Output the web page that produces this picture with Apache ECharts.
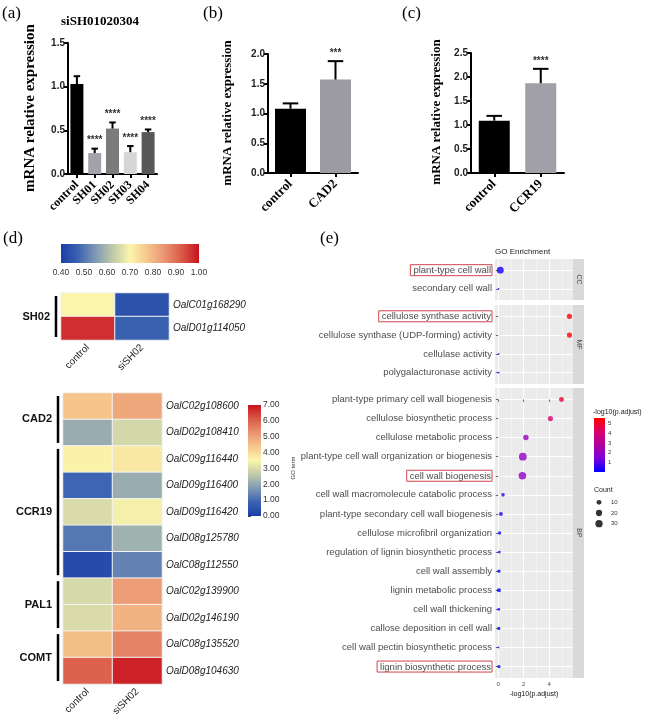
<!DOCTYPE html>
<html><head><meta charset="utf-8">
<script src="https://cdn.jsdelivr.net/npm/echarts@6/dist/echarts.min.js"></script>
<style>html,body{margin:0;padding:0;background:#fff}#c{width:650px;height:720px}</style>
</head><body><div id="c"></div>
<script>
// ---------------- data ----------------
const aCats = ['control', 'SH01', 'SH02', 'SH03', 'SH04'];
const aMean = [1.03, 0.24, 0.52, 0.25, 0.48];
const aErr  = [0.09, 0.05, 0.07, 0.07, 0.03];
const aSig  = ['', '****', '****', '****', '****'];
const aTicks = [0, 0.5, 1.0, 1.5];

const bCats = ['control', 'CAD2'];
const bMean = [1.08, 1.57];
const bErr  = [0.09, 0.31];
const bSig  = ['', '***'];
const bTicks = [0, 0.5, 1.0, 1.5, 2.0];

const cCats = ['control', 'CCR19'];
const cMean = [1.09, 1.87];
const cErr  = [0.10, 0.30];
const cSig  = ['', '****'];
const cTicks = [0, 0.5, 1.0, 1.5, 2.0, 2.5];

const hmConds = ['control', 'siSH02'];
const sh02Genes = ['OalC01g168290', 'OalD01g114050'];
const sh02Control = [0.70, 0.97];
const sh02Si = [0.44, 0.47];
const sh02Groups = [['SH02', 0, 1]];
const sh02Ticks = [0.4, 0.5, 0.6, 0.7, 0.8, 0.9, 1.0];

const ligGenes = ['OalC02g108600', 'OalD02g108410', 'OalC09g116440', 'OalD09g116400', 'OalD09g116420',
  'OalD08g125780', 'OalC08g112550', 'OalC02g139900', 'OalD02g146190', 'OalC08g135520', 'OalD08g104630'];
const ligControl = [4.4, 2.1, 3.55, 0.9, 3.0, 1.2, 0.3, 2.95, 3.0, 4.5, 6.0];
const ligSi      = [4.9, 2.9, 3.75, 2.1, 3.4, 2.2, 1.4, 5.1, 4.7, 5.5, 6.8];
const ligGroups = [['CAD2', 0, 1], ['CCR19', 2, 6], ['PAL1', 7, 8], ['COMT', 9, 10]];
const ligTicks = [0, 1, 2, 3, 4, 5, 6, 7];

const goTerms = ['plant-type cell wall', 'secondary cell wall',
  'cellulose synthase activity', 'cellulose synthase (UDP-forming) activity', 'cellulase activity', 'polygalacturonase activity',
  'plant-type primary cell wall biogenesis', 'cellulose biosynthetic process', 'cellulose metabolic process',
  'plant-type cell wall organization or biogenesis', 'cell wall biogenesis', 'cell wall macromolecule catabolic process',
  'plant-type secondary cell wall biogenesis', 'cellulose microfibril organization', 'regulation of lignin biosynthetic process',
  'cell wall assembly', 'lignin metabolic process', 'cell wall thickening', 'callose deposition in cell wall',
  'cell wall pectin biosynthetic process', 'lignin biosynthetic process'];
const goOntology = ['CC', 'CC', 'MF', 'MF', 'MF', 'MF',
  'BP', 'BP', 'BP', 'BP', 'BP', 'BP', 'BP', 'BP', 'BP', 'BP', 'BP', 'BP', 'BP', 'BP', 'BP'];
const goLogP  = [0.16, 0.02, 5.60, 5.60, 0.03, 0.03, 4.97, 4.10, 2.17, 1.93, 1.90, 0.37, 0.21, 0.10, 0.08,
  0.05, 0.05, 0.04, 0.04, 0.02, 0.05];
const goCount = [25, 1, 12, 12, 1, 1, 10, 12, 14, 35, 32, 4, 5, 3, 2, 3, 6, 2, 3, 1, 3];
const goHighlight = ['plant-type cell wall', 'cellulose synthase activity', 'cell wall biogenesis', 'lignin biosynthetic process'];
const goFacets = ['CC', 'MF', 'BP'];
const goXTicks = [0, 2, 4];
const goXMinor = [1, 3, 5];
const goColorTicks = [1, 2, 3, 4, 5];
const goCountBreaks = [10, 20, 30];

// ---------------- styles / layout ----------------
const SERIF = '"Liberation Serif","Times New Roman",serif';
const SANS = '"Liberation Sans",Arial,sans-serif';
const aColors = ['#000000', '#a3a2aa', '#7b7b7b', '#d6d6d6', '#585858'];
const bColors = ['#000000', '#9c9ba1'];
const cColors = ['#000000', '#a19fa7'];
const HM_COLORS = ['#1a3fa6', '#3c63b1', '#7f99b4', '#bfcaa9', '#fbf5ac', '#f5c68c', '#ea9471', '#da5a47', '#c8121e'];
const GO_COLORS = ['#0000ff', '#7c00dc', '#b0009f', '#d8006a', '#ff0000'];

const grids = [
  {left: 68, top: 43, width: 89, height: 131},     // 0 a
  {left: 268, top: 54, width: 90, height: 119},    // 1 b
  {left: 471, top: 53, width: 93, height: 120},    // 2 c
  {left: 61, top: 293, width: 108, height: 47},    // 3 hm1
  {left: 63, top: 393, width: 99, height: 291},    // 4 hm2
  {left: 61, top: 244, width: 138, height: 19},    // 5 cbar1
  {left: 248, top: 405, width: 13, height: 111},   // 6 cbar2
  {left: 495, top: 259, width: 78, height: 41},    // 7 CC
  {left: 495, top: 305, width: 78, height: 79},    // 8 MF
  {left: 495, top: 388, width: 78, height: 290},   // 9 BP
  {left: 594, top: 418, width: 11, height: 54},    // 10 go color legend
  {left: 593, top: 497, width: 12, height: 32}     // 11 count legend
];
grids.forEach((g, i) => {
  g.outerBoundsMode = 'none';
  g.containLabel = false;
  if (i >= 7 && i <= 9) { g.show = true; g.backgroundColor = '#ebebeb'; g.borderWidth = 0; }
});

const xAxes = [], yAxes = [], series = [], graphics = [];

// ---------- bar panels ----------
function addBarPanel(gi, cats, mean, err, sig, ticks, colors, barW, labelSize) {
  xAxes.push({type: 'category', gridIndex: gi, data: cats,
    axisLine: {lineStyle: {color: '#000', width: 2}},
    axisTick: {show: true, alignWithLabel: true, length: 4, lineStyle: {color: '#000', width: 2}},
    axisLabel: {interval: 0, rotate: 45, fontFamily: SERIF, fontWeight: 'bold', fontSize: labelSize, color: '#000', margin: 9},
    splitLine: {show: false}});
  yAxes.push({type: 'value', gridIndex: gi, min: ticks[0], max: ticks[ticks.length - 1], interval: ticks[1] - ticks[0],
    axisLine: {show: true, lineStyle: {color: '#000', width: 2}},
    axisTick: {show: true, length: 4, lineStyle: {color: '#000', width: 2}},
    axisLabel: {formatter: v => v.toFixed(1), fontFamily: SANS, fontWeight: 'bold', fontSize: 10, color: '#222', margin: 3},
    splitLine: {show: false}});
  const xi = xAxes.length - 1, yi = yAxes.length - 1;
  series.push({type: 'bar', xAxisIndex: xi, yAxisIndex: yi, barWidth: barW, silent: true,
    data: mean.map((v, i) => ({value: v, itemStyle: {color: colors[i]}}))});
  series.push({type: 'custom', xAxisIndex: xi, yAxisIndex: yi, z: 5, silent: true,
    data: mean.map((m, i) => [i, m, err[i]]),
    renderItem: function (params, api) {
      const i = api.value(0), m = api.value(1), e = api.value(2);
      const p0 = api.coord([i, m]), p1 = api.coord([i, m + e]);
      const hw = barW * 0.25;
      const ch = [
        {type: 'line', shape: {x1: p0[0], y1: p0[1], x2: p1[0], y2: p1[1]}, style: {stroke: '#000', lineWidth: 2}},
        {type: 'line', shape: {x1: p1[0] - hw, y1: p1[1], x2: p1[0] + hw, y2: p1[1]}, style: {stroke: '#000', lineWidth: 2}}
      ];
      const s = sig[params.dataIndex];
      if (s) ch.push({type: 'text', style: {text: s, x: p1[0], y: p1[1] - 3, align: 'center', verticalAlign: 'bottom',
        font: 'bold 10px ' + SANS, fill: '#333'}});
      return {type: 'group', children: ch};
    }});
}
addBarPanel(0, aCats, aMean, aErr, aSig, aTicks, aColors, 13, 12);
addBarPanel(1, bCats, bMean, bErr, bSig, bTicks, bColors, 31, 13);
addBarPanel(2, cCats, cMean, cErr, cSig, cTicks, cColors, 31, 13);

// ---------- heatmaps ----------
function groupRender(groups) {
  return function (params, api) {
    const g = groups[params.dataIndex];
    const a = api.coord([0, g[1]]), b = api.coord([0, g[2]]);
    const sz = api.size([1, 1]);
    const xl = a[0] - sz[0] / 2;
    const y0 = a[1] - sz[1] / 2 + 3, y1 = b[1] + sz[1] / 2 - 3;
    return {type: 'group', children: [
      {type: 'line', shape: {x1: xl - 5, y1: y0, x2: xl - 5, y2: y1}, style: {stroke: '#000', lineWidth: 2.5}},
      {type: 'text', style: {text: g[0], x: xl - 11, y: (y0 + y1) / 2, align: 'right', verticalAlign: 'middle',
        font: 'bold 11px ' + SANS, fill: '#111'}}
    ]};
  };
}
function addHeatmap(gi, genes, ctrl, si, groups) {
  xAxes.push({type: 'category', gridIndex: gi, data: hmConds,
    axisLine: {show: false}, axisTick: {show: false}, splitLine: {show: false},
    axisLabel: {interval: 0, rotate: 45, fontFamily: SANS, fontSize: 10, color: '#222', margin: 6}});
  yAxes.push({type: 'category', gridIndex: gi, data: genes, inverse: true, position: 'right',
    axisLine: {show: false}, axisTick: {show: false}, splitLine: {show: false},
    axisLabel: {interval: 0, fontFamily: SANS, fontStyle: 'italic', fontSize: 10, color: '#222', margin: 4}});
  const xi = xAxes.length - 1, yi = yAxes.length - 1;
  const data = [];
  genes.forEach((g, r) => { data.push([0, r, ctrl[r]]); data.push([1, r, si[r]]); });
  series.push({type: 'heatmap', xAxisIndex: xi, yAxisIndex: yi, data: data, silent: true,
    itemStyle: {borderColor: '#f4f4f4', borderWidth: 1}, emphasis: {disabled: true}});
  const hsi = series.length - 1;
  series.push({type: 'custom', xAxisIndex: xi, yAxisIndex: yi, silent: true,
    data: groups.map(g => [0, g[1], g[2]]), renderItem: groupRender(groups)});
  return hsi;
}
const hm1Index = addHeatmap(3, sh02Genes, sh02Control, sh02Si, sh02Groups);
const hm2Index = addHeatmap(4, ligGenes, ligControl, ligSi, ligGroups);

function gradRender(colors, horizontal) {
  return function (params, api) {
    const cs = params.coordSys;
    const stops = colors.map((c, i) => ({offset: i / (colors.length - 1), color: c}));
    const grad = horizontal ? new echarts.graphic.LinearGradient(0, 0, 1, 0, stops)
                            : new echarts.graphic.LinearGradient(0, 1, 0, 0, stops);
    return {type: 'rect', shape: {x: cs.x, y: cs.y, width: cs.width, height: cs.height}, style: {fill: grad}};
  };
}
// colorbar 1 (horizontal)
xAxes.push({type: 'value', gridIndex: 5, min: sh02Ticks[0], max: sh02Ticks[sh02Ticks.length - 1], interval: 0.1,
  axisLine: {show: false}, axisTick: {show: false}, splitLine: {show: false},
  axisLabel: {formatter: v => v.toFixed(2), fontFamily: SANS, fontSize: 8.5, color: '#333', margin: 5}});
yAxes.push({type: 'value', gridIndex: 5, min: 0, max: 1, show: false});
series.push({type: 'custom', xAxisIndex: xAxes.length - 1, yAxisIndex: yAxes.length - 1, silent: true,
  data: [[sh02Ticks[0], 0]], renderItem: gradRender(HM_COLORS, true)});
// colorbar 2 (vertical)
xAxes.push({type: 'value', gridIndex: 6, min: 0, max: 1, show: false});
yAxes.push({type: 'value', gridIndex: 6, position: 'right', min: ligTicks[0], max: ligTicks[ligTicks.length - 1], interval: 1,
  axisLine: {show: false}, splitLine: {show: false},
  axisTick: {show: true, length: 3, lineStyle: {color: '#444', width: 1}},
  axisLabel: {formatter: v => v.toFixed(2), fontFamily: SANS, fontSize: 8.5, color: '#333', margin: 2}});
series.push({type: 'custom', xAxisIndex: xAxes.length - 1, yAxisIndex: yAxes.length - 1, silent: true,
  data: [[0, 0]], renderItem: gradRender(HM_COLORS, false)});

// ---------- GO enrichment ----------
const goMin = Math.min(...goLogP), goMax = Math.max(...goLogP);
const xPad = (goMax - goMin) * 0.05;
function sizeFn(c) { return 1.8 + 6 * Math.sqrt((c - 1) / 34); }
const goSeriesIdx = [];
goFacets.forEach((f, k) => {
  const gi = 7 + k;
  const terms = goTerms.filter((t, i) => goOntology[i] === f);
  const n = terms.length;
  const idxs = terms.map((t, j) => j);
  const isLast = k === goFacets.length - 1;
  xAxes.push({type: 'value', gridIndex: gi, min: goMin - xPad, max: goMax + xPad,
    axisLine: {show: false},
    axisTick: {show: isLast, customValues: goXTicks, length: 2.5, lineStyle: {color: '#444', width: 0.8}},
    axisLabel: {show: isLast, customValues: goXTicks, fontFamily: SANS, fontSize: 6, color: '#4d4d4d', margin: 3},
    splitLine: {show: true, lineStyle: {color: '#ffffff', width: 1}},
    name: isLast ? '-log10(p.adjust)' : '', nameLocation: 'middle', nameGap: 13, nameMoveOverlap: false,
    nameTextStyle: {fontFamily: SANS, fontSize: 7, color: '#111'}});
  const xi = xAxes.length - 1;
  yAxes.push({type: 'value', gridIndex: gi, min: -0.6, max: n - 0.4, inverse: true,
    axisLine: {show: false},
    axisTick: {show: true, customValues: idxs, length: 2.5, lineStyle: {color: '#444', width: 0.8}},
    axisLabel: {customValues: idxs, margin: 3, fontFamily: SANS, fontSize: 9.5, color: '#4d4d4d',
      formatter: v => { const t = terms[Math.round(v)]; return goHighlight.indexOf(t) >= 0 ? '{hl|' + t + '}' : t; },
      rich: {hl: {fontFamily: SANS, fontSize: 9.5, color: '#4d4d4d', borderColor: '#d0454e', borderWidth: 1, padding: [1, 1, 0, 3]}}},
    splitLine: {show: true, lineStyle: {color: '#ffffff', width: 1}}});
  const yi = yAxes.length - 1;
  const data = [];
  goTerms.forEach((t, i) => { if (goOntology[i] === f) data.push([goLogP[i], terms.indexOf(t), goCount[i]]); });
  series.push({type: 'scatter', xAxisIndex: xi, yAxisIndex: yi, data: data, silent: true, z: 4,
    symbolSize: val => sizeFn(val[2])});
  goSeriesIdx.push(series.length - 1);
});
// minor vertical grid lines
goFacets.forEach((f, k) => {
  xAxes.push({type: 'value', gridIndex: 7 + k, min: goMin - xPad, max: goMax + xPad, position: 'top',
    axisLine: {show: false}, axisTick: {show: false, customValues: goXMinor},
    axisLabel: {show: false, customValues: goXMinor},
    splitLine: {show: true, lineStyle: {color: '#f7f7f7', width: 0.6}}});
});
// color legend
xAxes.push({type: 'value', gridIndex: 10, min: 0, max: 1, show: false});
yAxes.push({type: 'value', gridIndex: 10, position: 'right', min: goMin, max: goMax,
  axisLine: {show: false}, axisTick: {show: false}, splitLine: {show: false},
  axisLabel: {customValues: goColorTicks, fontFamily: SANS, fontSize: 6, color: '#333', margin: 3}});
series.push({type: 'custom', xAxisIndex: xAxes.length - 1, yAxisIndex: yAxes.length - 1, silent: true,
  data: [[0, goMin]], renderItem: gradRender(GO_COLORS, false)});
// count legend
xAxes.push({type: 'value', gridIndex: 11, min: -1, max: 1, show: false});
yAxes.push({type: 'category', gridIndex: 11, position: 'right', inverse: true, data: goCountBreaks.map(String),
  axisLine: {show: false}, axisTick: {show: false}, splitLine: {show: false},
  axisLabel: {fontFamily: SANS, fontSize: 6, color: '#333', margin: 6}});
series.push({type: 'scatter', xAxisIndex: xAxes.length - 1, yAxisIndex: yAxes.length - 1, silent: true,
  data: goCountBreaks.map((c, i) => [0, i, c]), symbolSize: val => sizeFn(val[2]), itemStyle: {color: '#000'}});

// ---------- text decorations ----------
function txt(text, x, y, font, fill, align, vAlign, rot) {
  graphics.push({type: 'text', x: x, y: y, rotation: rot || 0, silent: true,
    style: {text: text, font: font, fill: fill || '#000', align: align || 'left', verticalAlign: vAlign || 'middle'}});
}
const panelFont = '17px ' + SERIF;
txt('(a)', 2, 14, panelFont);
txt('(b)', 203, 14, panelFont);
txt('(c)', 402, 14, panelFont);
txt('(d)', 3, 239, panelFont);
txt('(e)', 320, 239, panelFont);
txt('siSH01020304', 100, 22, 'bold 13px ' + SERIF, '#000', 'center');
txt('mRNA relative expression', 30, 108, 'bold 15px ' + SERIF, '#000', 'center', 'middle', Math.PI / 2);
txt('mRNA relative expression', 228, 113, 'bold 13px ' + SERIF, '#000', 'center', 'middle', Math.PI / 2);
txt('mRNA relative expression', 437, 112, 'bold 13px ' + SERIF, '#000', 'center', 'middle', Math.PI / 2);
txt('GO Enrichment', 495, 252, '8px ' + SANS, '#222', 'left');
txt('GO term', 293, 468, '6px ' + SANS, '#333', 'center', 'middle', Math.PI / 2);
goFacets.forEach((f, k) => {
  const g = grids[7 + k];
  graphics.push({type: 'rect', x: g.left + g.width, y: g.top, silent: true,
    shape: {x: 0, y: 0, width: 11, height: g.height}, style: {fill: '#d9d9d9'}});
  txt(f, g.left + g.width + 5.5, g.top + g.height / 2, '7px ' + SANS, '#4d4d4d', 'center', 'middle', -Math.PI / 2);
});
txt('-log10(p.adjust)', 593, 412, '7px ' + SANS, '#222', 'left');
txt('Count', 594, 490, '7px ' + SANS, '#222', 'left');

const option = {
  animation: false,
  backgroundColor: '#ffffff',
  grid: grids,
  xAxis: xAxes,
  yAxis: yAxes,
  visualMap: [
    {type: 'continuous', show: false, seriesIndex: hm1Index, dimension: 2,
      min: sh02Ticks[0], max: sh02Ticks[sh02Ticks.length - 1], inRange: {color: HM_COLORS}},
    {type: 'continuous', show: false, seriesIndex: hm2Index, dimension: 2,
      min: ligTicks[0], max: ligTicks[ligTicks.length - 1], inRange: {color: HM_COLORS}},
    {type: 'continuous', show: false, seriesIndex: goSeriesIdx, dimension: 0,
      min: goMin, max: goMax, inRange: {color: GO_COLORS}}
  ],
  series: series,
  graphic: graphics
};
const chart = echarts.init(document.getElementById('c'), null, {renderer: 'canvas'});
chart.setOption(option);
</script></body></html>
